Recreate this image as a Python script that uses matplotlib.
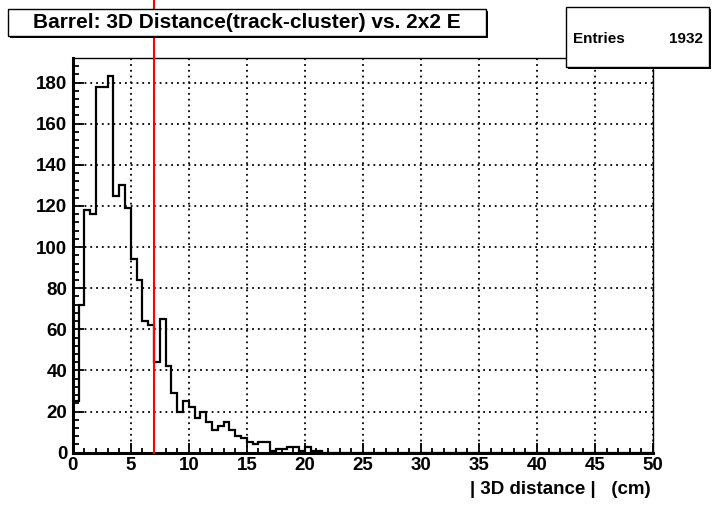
import numpy as np
import matplotlib
matplotlib.use('Agg')
from matplotlib import pyplot as plt
from matplotlib.patches import Rectangle

#%% histogram data (0.5 cm bins from 0 to 50)
bin_edges = np.arange(0, 50.5, 0.5)
counts_nonzero = [25, 72, 118, 116, 178, 178, 183, 125, 130, 119,
                  94, 84, 64, 62, 44, 65, 42, 29, 20, 25,
                  22, 17, 20, 15, 11, 13, 15, 11, 8, 7,
                  5, 4, 5, 5, 1, 2, 2, 3, 3, 1,
                  3, 1, 1]
counts = np.zeros(len(bin_edges) - 1)
counts[:len(counts_nonzero)] = counts_nonzero
cut_value = 7.0
title_text = 'Barrel: 3D Distance(track-cluster) vs. 2x2 E'
xlabel_text = '| 3D distance |   (cm)'
n_entries = 1932

#%% figure
plt.rcParams['font.family'] = ['Liberation Sans', 'DejaVu Sans']
plt.rcParams['font.weight'] = 'bold'
W, H = 718, 507
fig = plt.figure(figsize=(W/100, H/100), dpi=100)
fx = lambda x: x / W
fy = lambda y: 1 - y / H

ax_l, ax_r, ax_b, ax_t = 72.7, 653, 452.7, 57.6
ax = fig.add_axes([fx(ax_l), fy(ax_b), fx(ax_r) - fx(ax_l), fy(ax_t) - fy(ax_b)])

ax.stairs(counts, bin_edges, color='black', lw=1.6, baseline=0, zorder=3)
ax.set_xlim(0, 50)
ax.set_ylim(0, 1.05 * counts.max())

ax.set_xticks(np.arange(0, 51, 5))
ax.set_xticks(np.arange(0, 51, 1), minor=True)
ax.set_yticks(np.arange(0, 181, 20))
ax.set_yticks(np.arange(0, 189, 4), minor=True)
ax.grid(True, which='major', color='black', linestyle=(0, (1, 2.2)), lw=1.3)
ax.tick_params(axis='x', which='major', direction='in', length=7, width=1.3, labelsize=13.5, pad=3)
ax.tick_params(axis='x', which='minor', direction='in', length=3.8, width=1.3)
ax.tick_params(axis='y', which='major', direction='in', length=8, width=1.3, labelsize=13.5, pad=4)
ax.tick_params(axis='y', which='minor', direction='in', length=4.5, width=1.3)
for lab in ax.get_xticklabels() + ax.get_yticklabels():
    lab.set_fontweight('bold')
ax.spines['left'].set_linewidth(2.2)
ax.spines['bottom'].set_linewidth(2.2)
ax.spines['top'].set_linewidth(1.0)
ax.spines['right'].set_linewidth(1.0)

# cut line, runs up to the top of the canvas
ax.axvline(cut_value, ymin=0, ymax=(ax_b) / (ax_b - ax_t), color='red', lw=1.5,
           clip_on=False, zorder=4)

fig.text(fx(651), fy(490), xlabel_text, ha='right', va='center',
         fontsize=13.5, fontweight='bold')

#%% title box and stats box
def box(x0, y0, x1, y1, shadow=2):
    fig.patches.append(Rectangle((fx(x0 + shadow), fy(y1 + shadow)), fx(x1) - fx(x0), fy(y0) - fy(y1),
                                 transform=fig.transFigure, facecolor='black', edgecolor='none', zorder=10))
    fig.patches.append(Rectangle((fx(x0), fy(y1)), fx(x1) - fx(x0), fy(y0) - fy(y1),
                                 transform=fig.transFigure, facecolor='white', edgecolor='black',
                                 lw=1.0, zorder=11))

box(8, 9, 486, 36)
fig.text(fx(247), fy(23), title_text, ha='center', va='center', fontsize=15,
         fontweight='bold', zorder=12)

box(566, 7, 709, 67)
fig.text(fx(573), fy(39), 'Entries', ha='left', va='center', fontsize=11,
         fontweight='bold', zorder=12)
fig.text(fx(703), fy(39), str(n_entries), ha='right', va='center', fontsize=11,
         fontweight='bold', zorder=12)

fig.savefig('out.png', dpi=100)
